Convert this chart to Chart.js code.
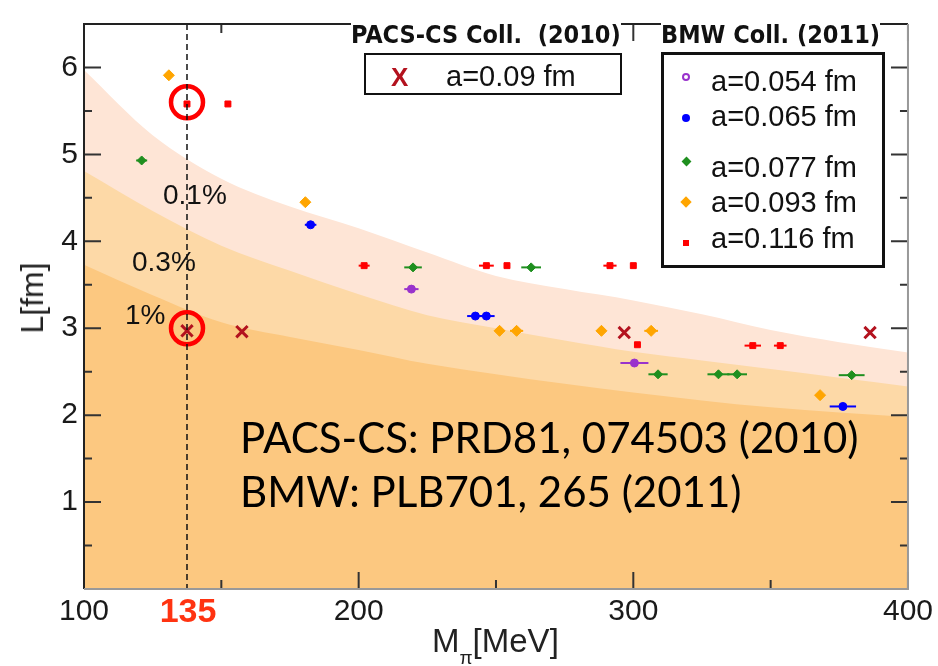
<!DOCTYPE html>
<html>
<head>
<meta charset="UTF-8">
<title>L vs Mpi</title>
<script src="https://cdn.jsdelivr.net/npm/chart.js"></script>
<style>
body { margin: 0; background: #fff; }
#wrap { position: relative; width: 938px; height: 666px; overflow: hidden; }
#chart { position: absolute; left: 0; top: 0; }
.t { position: absolute; line-height: 1; white-space: nowrap; font-family: "Liberation Sans", Arial, sans-serif; color: #111; }
.mk { position: absolute; }
</style>
</head>
<body>
<div id="wrap">
    <canvas id="chart" width="938" height="666"></canvas>

    <!-- band labels -->
    <div class="t" style="left:163px; top:181px; font-size:28px;">0.1%</div>
    <div class="t" style="left:132px; top:248px; font-size:28px;">0.3%</div>
    <div class="t" style="left:125px; top:301px; font-size:28px;">1%</div>

    <!-- PACS-CS legend -->
    <div class="t" style="left:351px; top:22px; font-size:25px; font-weight:bold; background:#fff; font-family:'DejaVu Sans Condensed','DejaVu Sans',sans-serif;">PACS-CS Coll.&nbsp; (2010)</div>
    <div style="position:absolute; left:364px; top:53px; width:254px; height:38px; border:2.5px solid #111;"></div>
    <div class="t" style="left:391px; top:64px; font-size:26px; font-weight:bold; color:#b3121e;">X</div>
    <div class="t" style="left:446px; top:62px; font-size:29px;">a=0.09 fm</div>

    <!-- BMW legend -->
    <div class="t" style="left:661px; top:22px; font-size:25px; font-weight:bold; background:#fff; font-family:'DejaVu Sans Condensed','DejaVu Sans',sans-serif;">BMW Coll. (2011)</div>
    <div style="position:absolute; left:661px; top:52px; width:218px; height:210px; border:3px solid #111;"></div>
    <div class="mk" style="left:682px; top:73px; width:4px; height:4px; border:2px solid #9932cc; border-radius:50%;"></div>
    <div class="mk" style="left:682px; top:114px; width:8px; height:8px; background:#0000ff; border-radius:50%;"></div>
    <div class="mk" style="left:683px; top:158px; width:7px; height:7px; background:#1f8f1f; transform:rotate(45deg);"></div>
    <div class="mk" style="left:682px; top:198px; width:8px; height:8px; background:#ffa500; transform:rotate(45deg);"></div>
    <div class="mk" style="left:683px; top:240px; width:6px; height:6px; background:#ff0000;"></div>
    <div class="t" style="left:711px; top:67px; font-size:29px;">a=0.054 fm</div>
    <div class="t" style="left:711px; top:102px; font-size:29px;">a=0.065 fm</div>
    <div class="t" style="left:711px; top:153px; font-size:29px;">a=0.077 fm</div>
    <div class="t" style="left:711px; top:188px; font-size:29px;">a=0.093 fm</div>
    <div class="t" style="left:711px; top:224px; font-size:29px;">a=0.116 fm</div>

    <!-- references -->
    <div class="t" style="left:240px; top:416px; font-size:42px; font-family:Lato,'Open Sans',sans-serif; color:#000;">PACS-CS: PRD81, 074503 (2010)</div>
    <div class="t" style="left:240px; top:470px; font-size:42px; font-family:Lato,'Open Sans',sans-serif; color:#000;">BMW: PLB701, 265 (2011)</div>

    <!-- axis titles and the physical point label -->
    <div class="t" style="left:188px; top:593px; font-size:34px; font-weight:bold; color:#ff3311; transform:translateX(-50%);">135</div>
    <div class="t" style="left:432px; top:624px; font-size:33px; color:#222;">M<span style="font-size:19px; position:relative; top:12px;">π</span>[MeV]</div>
    <div class="t" style="left:32px; top:298px; font-size:32px; color:#222; transform:translate(-50%,-50%) rotate(-90deg);">L[fm]</div>
</div>

<script>
// axis ticks
const xTicks = [100, 200, 300, 400];
const xMinor = [150, 250, 350];
const yTicks = [1, 2, 3, 4, 5, 6];
const yMinor = [0.5, 1.5, 2.5, 3.5, 4.5, 5.5];
const physM = 137.5;   // where the dashed "135" line sits on the picture

// finite volume bands (upper edges)
const bandM   = [100, 125, 150, 175, 200, 225, 250, 275, 300, 325, 350, 375, 400];
const band01  = [5.97, 5.22, 4.72, 4.40, 4.15, 3.87, 3.60, 3.45, 3.32, 3.16, 2.98, 2.84, 2.72];
const band03  = [4.81, 4.35, 3.95, 3.66, 3.39, 3.15, 3.00, 2.86, 2.73, 2.63, 2.53, 2.43, 2.33];
const band1   = [3.73, 3.38, 3.07, 2.90, 2.75, 2.59, 2.47, 2.36, 2.26, 2.17, 2.09, 2.03, 1.98];

// PACS-CS a=0.09 fm
const pacsM = [137.5, 157.5, 296.7, 386.2];
const pacsL = [2.97, 2.96, 2.95, 2.95];

// BMW, per lattice spacing (M, L, error in M)
const purM = [219.2, 300.4];
const purL = [3.45, 2.60];
const purErr = [2.6, 5.1];

const bluM = [182.5, 242.5, 246.5, 376.3];
const bluL = [4.19, 3.14, 3.14, 2.10];
const bluErr = [2.1, 3.0, 3.0, 4.8];

const grnM = [121.0, 219.8, 262.8, 309.0, 331.0, 337.8, 379.5];
const grnL = [4.93, 3.70, 3.70, 2.47, 2.47, 2.47, 2.46];
const grnErr = [2.0, 3.2, 3.6, 3.5, 4.0, 3.6, 4.7];

const oraM = [130.9, 180.6, 251.3, 257.5, 288.4, 306.5, 368.0];
const oraL = [5.91, 4.45, 2.97, 2.97, 2.97, 2.97, 2.23];
const oraErr = [1.0, 1.0, 1.0, 2.4, 1.0, 2.5, 1.0];

const redM = [137.5, 152.4, 202.0, 246.5, 254.0, 291.5, 300.0, 301.5, 343.5, 353.5];
const redL = [5.58, 5.58, 3.72, 3.72, 3.72, 3.72, 3.72, 2.81, 2.80, 2.80];
const redErr = [1.0, 1.0, 2.0, 2.7, 1.0, 2.4, 1.0, 1.0, 3.0, 2.3];

// circled points
const circM = [137.5, 137.5];
const circL = [5.6, 3.0];

function pts(xs, ys) {
    return xs.map((x, i) => ({ x: x, y: ys[i] }));
}

function band(ys, color, order) {
    return {
        type: 'line',
        data: pts(bandM, ys),
        showLine: true,
        fill: 'start',
        backgroundColor: color,
        borderWidth: 0,
        borderColor: color,
        pointRadius: 0,
        cubicInterpolationMode: 'monotone',
        order: order
    };
}

function points(xs, ys, err, color, style, r, bw) {
    return {
        data: pts(xs, ys),
        xErr: err,
        pointStyle: style,
        pointRadius: r,
        backgroundColor: color,
        borderColor: color,
        borderWidth: bw || 1,
        order: 1
    };
}

const tickFont = { family: 'Liberation Sans', size: 30 };

// error bars, inward ticks, frame and dashed line
const extras = {
    id: 'extras',
    beforeDatasetDraw(chart, args) {
        const ds = chart.data.datasets[args.index];
        if (!ds.xErr) return;
        const ctx = chart.ctx, xs = chart.scales.x, ys = chart.scales.y;
        ctx.save();
        ctx.strokeStyle = ds.borderColor;
        ctx.lineWidth = 2;
        ds.data.forEach((p, i) => {
            const y = ys.getPixelForValue(p.y);
            ctx.beginPath();
            ctx.moveTo(xs.getPixelForValue(p.x - ds.xErr[i]), y);
            ctx.lineTo(xs.getPixelForValue(p.x + ds.xErr[i]), y);
            ctx.stroke();
        });
        ctx.restore();
    },
    afterDatasetsDraw(chart) {
        const ctx = chart.ctx, a = chart.chartArea;
        const xs = chart.scales.x, ys = chart.scales.y;
        ctx.save();
        // dashed line at physical pion mass
        ctx.strokeStyle = '#111';
        ctx.lineWidth = 1.5;
        ctx.setLineDash([6, 4]);
        const px = xs.getPixelForValue(physM);
        ctx.beginPath();
        ctx.moveTo(px, a.top);
        ctx.lineTo(px, a.bottom);
        ctx.stroke();
        ctx.setLineDash([]);

        ctx.strokeStyle = '#333';
        ctx.lineWidth = 2;
        function xt(v, len) {
            const x = xs.getPixelForValue(v);
            ctx.beginPath();
            ctx.moveTo(x, a.bottom); ctx.lineTo(x, a.bottom - len);
            ctx.moveTo(x, a.top); ctx.lineTo(x, a.top + len);
            ctx.stroke();
        }
        function yt(v, len) {
            const y = ys.getPixelForValue(v);
            ctx.beginPath();
            ctx.moveTo(a.left, y); ctx.lineTo(a.left + len, y);
            ctx.moveTo(a.right, y); ctx.lineTo(a.right - len, y);
            ctx.stroke();
        }
        xTicks.forEach(v => xt(v, 17));
        xMinor.forEach(v => xt(v, 9));
        yTicks.forEach(v => yt(v, 17));
        yMinor.forEach(v => yt(v, 8));

        // frame
        ctx.strokeStyle = '#222';
        ctx.beginPath();
        ctx.moveTo(a.left, a.bottom); ctx.lineTo(a.left, a.top); ctx.lineTo(a.right, a.top);
        ctx.stroke();
        ctx.strokeStyle = '#999';
        ctx.beginPath();
        ctx.moveTo(a.right, a.top); ctx.lineTo(a.right, a.bottom); ctx.lineTo(a.left, a.bottom);
        ctx.stroke();
        ctx.restore();
    }
};

new Chart(document.getElementById('chart'), {
    type: 'scatter',
    data: {
        datasets: [
            {
                data: pts(circM, circL),
                pointStyle: 'circle',
                pointRadius: 16,
                borderWidth: 4.5,
                borderColor: '#ff0000',
                backgroundColor: 'rgba(0,0,0,0)',
                order: 0
            },
            points(pacsM, pacsL, null, '#b3121e', 'crossRot', 8, 3),
            points(purM, purL, purErr, '#9932cc', 'circle', 4),
            points(bluM, bluL, bluErr, '#0000ff', 'circle', 4),
            points(grnM, grnL, grnErr, '#1f8f1f', 'rectRot', 4.5),
            points(oraM, oraL, oraErr, '#ffa500', 'rectRot', 5.5),
            points(redM, redL, redErr, '#ff0000', 'rect', 4.2),
            band(band1, '#fcc880', 3),
            band(band03, '#fdd9a7', 4),
            band(band01, '#fee5d6', 5)
        ]
    },
    options: {
        responsive: false,
        animation: false,
        events: [],
        layout: { padding: { top: 10, right: 29, left: 0, bottom: 0 } },
        plugins: { legend: { display: false }, tooltip: { enabled: false } },
        scales: {
            x: {
                type: 'linear',
                min: 100,
                max: 400,
                grid: { display: false, drawTicks: false },
                border: { display: false },
                afterBuildTicks: s => { s.ticks = xTicks.map(v => ({ value: v })); },
                afterFit: s => { s.height = 77; },
                ticks: { font: tickFont, color: '#1a1a1a', padding: 5, autoSkip: false, maxRotation: 0 }
            },
            y: {
                min: 0,
                max: 6.5,
                grid: { display: false, drawTicks: false },
                border: { display: false },
                afterBuildTicks: s => { s.ticks = yTicks.map(v => ({ value: v })); },
                afterFit: s => { s.width = 84; },
                ticks: { font: tickFont, color: '#1a1a1a', padding: 6, autoSkip: false }
            }
        }
    },
    plugins: [extras]
});
</script>
</body>
</html>
